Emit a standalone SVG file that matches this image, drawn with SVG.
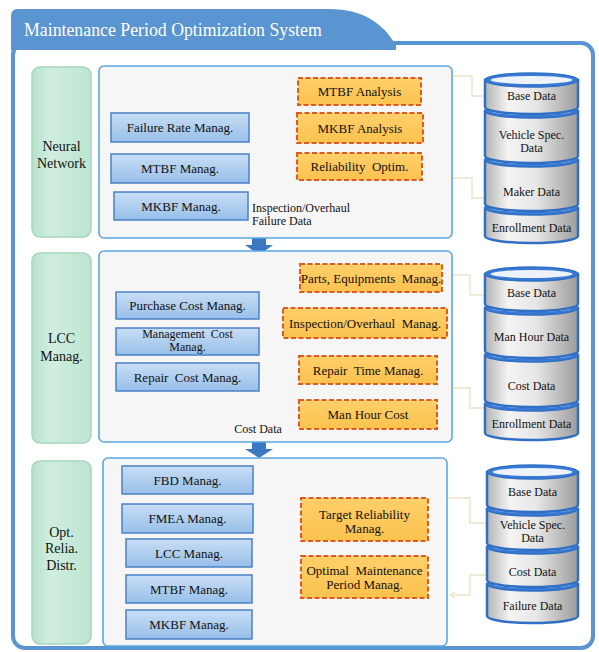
<svg xmlns="http://www.w3.org/2000/svg" width="599" height="652" viewBox="0 0 599 652">
<defs>
<linearGradient id="gBlue" x1="0" y1="0" x2="0" y2="1"><stop offset="0" stop-color="#c9def5"/><stop offset="1" stop-color="#97bfe9"/></linearGradient>
<linearGradient id="gOrange" x1="0" y1="0" x2="0" y2="1"><stop offset="0" stop-color="#ffd06a"/><stop offset="1" stop-color="#fbc24e"/></linearGradient>
<linearGradient id="gGreen" x1="0" y1="0" x2="1" y2="0"><stop offset="0" stop-color="#b5e1cb"/><stop offset="0.3" stop-color="#d0eee0"/><stop offset="1" stop-color="#bce5d1"/></linearGradient>
<linearGradient id="gCyl" x1="0" y1="0" x2="1" y2="0"><stop offset="0" stop-color="#b4b4b4"/><stop offset="0.25" stop-color="#f4f4f4"/><stop offset="0.55" stop-color="#e6e6e6"/><stop offset="1" stop-color="#9c9c9c"/></linearGradient>
<marker id="arr" markerWidth="8" markerHeight="8" refX="6" refY="4" orient="auto" markerUnits="userSpaceOnUse"><path d="M1,1 L6,4 L1,7" fill="none" stroke="#e9e1bf" stroke-width="1.2"/></marker>
<style>
.t{font-family:"Liberation Serif","Times New Roman",serif;fill:#111;text-anchor:middle}
.s13{font-size:13px}
.s12{font-size:12px}
.s14{font-size:14px}
.bb{fill:url(#gBlue);stroke:#4a80c6;stroke-width:1.5}
.ob{fill:url(#gOrange);stroke:#df5a1e;stroke-width:2;stroke-dasharray:5 2.5}
.gb{fill:url(#gGreen);stroke:#a6d6be;stroke-width:1.5}
.pn{fill:#f6f6f6;stroke:#5aa8e4;stroke-width:1.6}
.cb{fill:url(#gCyl);stroke:#2f6fc4;stroke-width:2.5}
.ct{fill:#3a7ad6;stroke:#2f6fc4;stroke-width:1.5}
.ci{fill:#eef3fa}
.cn{fill:none;stroke:#ebe4c6;stroke-width:1.4}
.ar{fill:#3b78c0}
</style>
</defs>

<g id="frame">
<rect x="13" y="43" width="580" height="605" rx="12" fill="#ffffff" stroke="#5a94d1" stroke-width="4"/>
<path d="M11,52 V16 Q11,9 18,9 H330 C362,9 383,23 396,45 L396,50 H11 Z" fill="#5a94d1"/>
<rect x="15" y="50" width="300" height="30" rx="10" fill="#ffffff"/>
<text x="24" y="36" font-family="Liberation Serif, Times New Roman, serif" font-size="17.8" fill="#ffffff">Maintenance Period Optimization System</text>
</g>

<g id="connectors">
<path class="cn" d="M273,202 V92 H296" marker-end="url(#arr)"/>
<path class="cn" d="M181,143 V152"/>
<path class="cn" d="M181,184 V191"/>
<path class="cn" d="M360,106 V112"/>
<path class="cn" d="M360,144 V152"/>
<path class="cn" d="M453,76 H472 V96 H485"/>
<path class="cn" d="M453,178 H472 V198 H485"/>
<path class="cn" d="M259,304 H268 V343 H259"/>
<path class="cn" d="M268,322 H283"/>
<path class="cn" d="M283,305 V275 H299" marker-end="url(#arr)"/>
<path class="cn" d="M259,373 H265 V388 H280"/>
<path class="cn" d="M280,376 V413"/>
<path class="cn" d="M280,376 H297" marker-end="url(#arr)"/>
<path class="cn" d="M280,413 H297" marker-end="url(#arr)"/>
<path class="cn" d="M452,275 H470 V295 H485"/>
<path class="cn" d="M452,388 H470 V408 H485"/>
<path class="cn" d="M253,476 H272 V515 H253"/>
<path class="cn" d="M272,494 H287 V482 H302" marker-end="url(#arr)"/>
<path class="cn" d="M252,552 H268 V627 H252"/>
<path class="cn" d="M268,588 H287 V577 H300" marker-end="url(#arr)"/>
<path class="cn" d="M191,495 V503"/>
<path class="cn" d="M189,568 V574"/>
<path class="cn" d="M189,604 V609"/>
<path class="cn" d="M447,498 H470 V523 H487"/>
<path class="cn" d="M487,575 H470 V595 H450" marker-end="url(#arr)"/>
</g>

<g id="arrow1"><rect class="ar" x="252" y="238" width="14" height="8"/><polygon class="ar" points="245,245 273,245 259,255"/></g>
<g id="arrow2"><rect class="ar" x="252" y="442" width="14" height="8"/><polygon class="ar" points="245,449 273,449 259,458"/></g>

<!-- Row 1 -->
<g id="neural"><rect class="gb" x="32" y="67" width="59" height="170" rx="8"/><text class="t s14" x="61.5" y="151">Neural</text><text class="t s14" x="61.5" y="168">Network</text></g>
<g id="panel1"><rect class="pn" x="99" y="66" width="353" height="172" rx="5"/></g>
<g id="failureRate"><rect class="bb" x="111" y="113" width="138" height="29"/><text class="t s13" x="180" y="132">Failure Rate Manag.</text></g>
<g id="mtbf1"><rect class="bb" x="111" y="154" width="138" height="29"/><text class="t s13" x="180" y="173">MTBF Manag.</text></g>
<g id="mkbf1"><rect class="bb" x="114" y="192" width="134" height="28"/><text class="t s13" x="181" y="210.5">MKBF Manag.</text></g>
<g id="inspText"><text class="t s12" x="252" y="212" style="text-anchor:start">Inspection/Overhaul</text><text class="t s12" x="252" y="225" style="text-anchor:start">Failure Data</text></g>
<g id="mtbfAnalysis"><rect class="ob" x="298" y="78" width="123" height="27"/><text class="t s13" x="359.5" y="96">MTBF Analysis</text></g>
<g id="mkbfAnalysis"><rect class="ob" x="297" y="113" width="126" height="30"/><text class="t s13" x="360" y="132.5">MKBF Analysis</text></g>
<g id="reliabilityOptim"><rect class="ob" x="297" y="153" width="125" height="27"/><text class="t s13" x="359.5" y="171" xml:space="preserve">Reliability  Optim.</text></g>

<g id="db1">
<path class="cb" d="M485,208 V236 A46.5,7 0 0 0 578,236 V208 Z"/><ellipse class="ct" cx="531.5" cy="208" rx="46.5" ry="7"/><ellipse class="ci" cx="531.5" cy="208" rx="41" ry="4"/>
<text class="t s12" x="531.5" y="232">Enrollment Data</text>
<path class="cb" d="M485,160 V204 A46.5,7 0 0 0 578,204 V160 Z"/><ellipse class="ct" cx="531.5" cy="160" rx="46.5" ry="7"/><ellipse class="ci" cx="531.5" cy="160" rx="41" ry="4"/>
<text class="t s12" x="531.5" y="196">Maker Data</text>
<path class="cb" d="M485,111 V156 A46.5,7 0 0 0 578,156 V111 Z"/><ellipse class="ct" cx="531.5" cy="111" rx="46.5" ry="7"/><ellipse class="ci" cx="531.5" cy="111" rx="41" ry="4"/>
<text class="t s12" x="531.5" y="139">Vehicle Spec.</text><text class="t s12" x="531.5" y="152">Data</text>
<path class="cb" d="M485,80 V107 A46.5,7 0 0 0 578,107 V80 Z"/><ellipse class="ct" cx="531.5" cy="80" rx="46.5" ry="7"/><ellipse class="ci" cx="531.5" cy="80" rx="41" ry="4"/>
<text class="t s12" x="531.5" y="100">Base Data</text>
</g>

<!-- Row 2 -->
<g id="lcc"><rect class="gb" x="32" y="253" width="59" height="190" rx="8"/><text class="t s14" x="61.5" y="343">LCC</text><text class="t s14" x="61.5" y="361">Manag.</text></g>
<g id="panel2"><rect class="pn" x="99" y="251" width="353" height="191" rx="5"/></g>
<g id="purchaseCost"><rect class="bb" x="116" y="292" width="143" height="27"/><text class="t s13" x="187.5" y="310">Purchase Cost Manag.</text></g>
<g id="managementCost"><rect class="bb" x="116" y="328" width="143" height="27"/><text class="t s12" x="187.5" y="337.5" xml:space="preserve">Management  Cost</text><text class="t s12" x="187.5" y="350.5">Manag.</text></g>
<g id="repairCost"><rect class="bb" x="116" y="363" width="143" height="28"/><text class="t s13" x="187.5" y="381.5" xml:space="preserve">Repair  Cost Manag.</text></g>
<g id="costDataText"><text class="t s12" x="258" y="433">Cost Data</text></g>
<g id="parts"><rect class="ob" x="300" y="264" width="142" height="28"/><text class="t s13" x="371" y="282.5" xml:space="preserve">Parts, Equipments  Manag.</text></g>
<g id="inspection"><rect class="ob" x="283" y="308" width="164" height="30"/><text class="t s13" x="365" y="327.5" xml:space="preserve">Inspection/Overhaul  Manag.</text></g>
<g id="repairTime"><rect class="ob" x="299" y="356" width="138" height="28"/><text class="t s13" x="368" y="374.5" xml:space="preserve">Repair  Time Manag.</text></g>
<g id="manHourCost"><rect class="ob" x="299" y="400" width="138" height="29"/><text class="t s13" x="368" y="419">Man Hour Cost</text></g>

<g id="db2">
<path class="cb" d="M485,404 V433 A46.5,7 0 0 0 578,433 V404 Z"/><ellipse class="ct" cx="531.5" cy="404" rx="46.5" ry="7"/><ellipse class="ci" cx="531.5" cy="404" rx="41" ry="4"/>
<text class="t s12" x="531.5" y="428">Enrollment Data</text>
<path class="cb" d="M485,355 V400 A46.5,7 0 0 0 578,400 V355 Z"/><ellipse class="ct" cx="531.5" cy="355" rx="46.5" ry="7"/><ellipse class="ci" cx="531.5" cy="355" rx="41" ry="4"/>
<text class="t s12" x="531.5" y="390">Cost Data</text>
<path class="cb" d="M485,308 V351 A46.5,7 0 0 0 578,351 V308 Z"/><ellipse class="ct" cx="531.5" cy="308" rx="46.5" ry="7"/><ellipse class="ci" cx="531.5" cy="308" rx="41" ry="4"/>
<text class="t s12" x="531.5" y="341">Man Hour Data</text>
<path class="cb" d="M485,274 V304 A46.5,7 0 0 0 578,304 V274 Z"/><ellipse class="ct" cx="531.5" cy="274" rx="46.5" ry="7"/><ellipse class="ci" cx="531.5" cy="274" rx="41" ry="4"/>
<text class="t s12" x="531.5" y="297">Base Data</text>
</g>

<!-- Row 3 -->
<g id="optRelia"><rect class="gb" x="32" y="461" width="59" height="183" rx="8"/><text class="t s14" x="61.5" y="537">Opt.</text><text class="t s14" x="61.5" y="553">Relia.</text><text class="t s14" x="61.5" y="570">Distr.</text></g>
<g id="panel3"><rect class="pn" x="103" y="458" width="344" height="188" rx="5"/></g>
<g id="fbd"><rect class="bb" x="122" y="466" width="131" height="28"/><text class="t s13" x="187.5" y="484.5">FBD Manag.</text></g>
<g id="fmea"><rect class="bb" x="122" y="504" width="131" height="29"/><text class="t s13" x="187.5" y="523">FMEA Manag.</text></g>
<g id="lcc3"><rect class="bb" x="126" y="539" width="126" height="28"/><text class="t s13" x="189" y="557.5">LCC Manag.</text></g>
<g id="mtbf3"><rect class="bb" x="126" y="575" width="126" height="28"/><text class="t s13" x="189" y="593.5">MTBF Manag.</text></g>
<g id="mkbf3"><rect class="bb" x="126" y="610" width="126" height="29"/><text class="t s13" x="189" y="629">MKBF Manag.</text></g>
<g id="targetRel"><rect class="ob" x="301" y="498" width="127" height="43"/><text class="t s13" x="364.5" y="518.5">Target Reliability</text><text class="t s13" x="364.5" y="532.5">Manag.</text></g>
<g id="optimalPeriod"><rect class="ob" x="301" y="556" width="127" height="42"/><text class="t s13" x="364.5" y="574.5" xml:space="preserve">Optimal  Maintenance</text><text class="t s13" x="364.5" y="588.5">Period Manag.</text></g>

<g id="db3">
<path class="cb" d="M487,584 V616 A45.5,7 0 0 0 578,616 V584 Z"/><ellipse class="ct" cx="532.5" cy="584" rx="45.5" ry="7"/><ellipse class="ci" cx="532.5" cy="584" rx="40" ry="4"/>
<text class="t s12" x="532.5" y="610">Failure Data</text>
<path class="cb" d="M487,547 V580 A45.5,7 0 0 0 578,580 V547 Z"/><ellipse class="ct" cx="532.5" cy="547" rx="45.5" ry="7"/><ellipse class="ci" cx="532.5" cy="547" rx="40" ry="4"/>
<text class="t s12" x="532.5" y="576">Cost Data</text>
<path class="cb" d="M487,509 V543 A45.5,7 0 0 0 578,543 V509 Z"/><ellipse class="ct" cx="532.5" cy="509" rx="45.5" ry="7"/><ellipse class="ci" cx="532.5" cy="509" rx="40" ry="4"/>
<text class="t s12" x="532.5" y="529">Vehicle Spec.</text><text class="t s12" x="532.5" y="542">Data</text>
<path class="cb" d="M487,472 V505 A45.5,7 0 0 0 578,505 V472 Z"/><ellipse class="ct" cx="532.5" cy="472" rx="45.5" ry="7"/><ellipse class="ci" cx="532.5" cy="472" rx="40" ry="4"/>
<text class="t s12" x="532.5" y="496">Base Data</text>
</g>
</svg>
